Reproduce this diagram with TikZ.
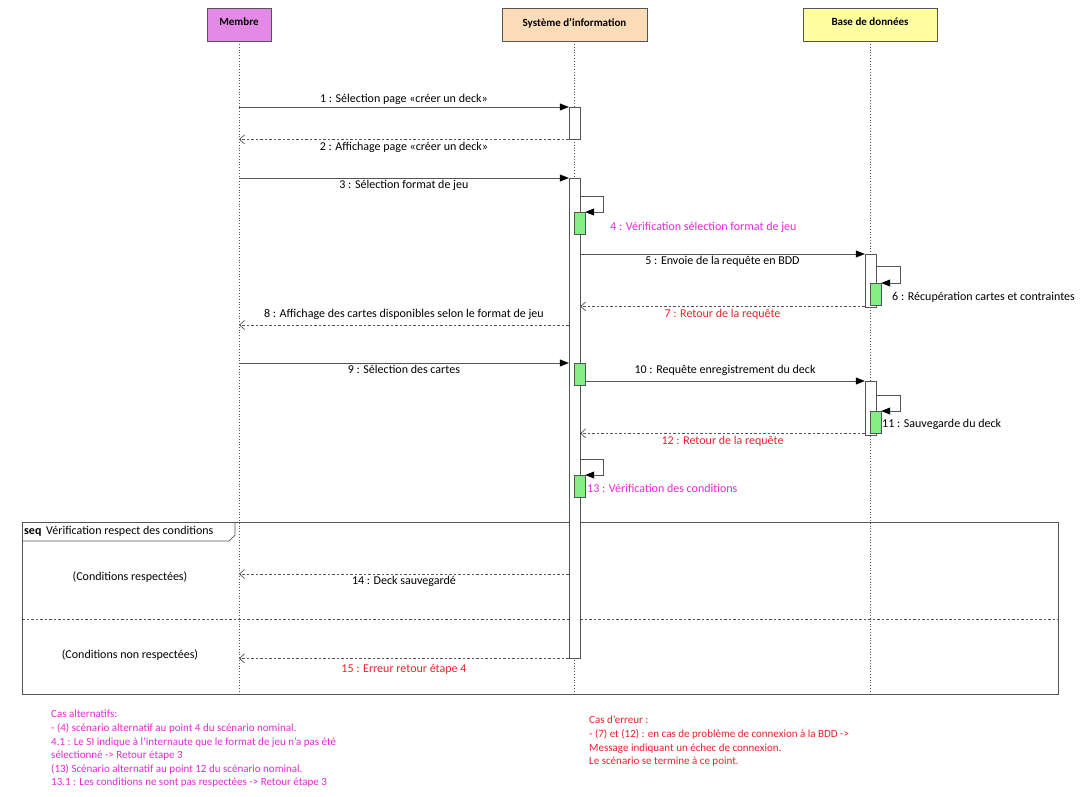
\documentclass[tikz,border=0pt]{standalone}
\usepackage{fontspec}
\setmainfont{Carlito}
\usetikzlibrary{arrows.meta}
\definecolor{membrefill}{HTML}{E38AE6}
\definecolor{sifill}{HTML}{FDDCBA}
\definecolor{bddfill}{HTML}{FFFFA2}
\definecolor{actfill}{HTML}{84EE84}
\definecolor{linegray}{HTML}{555555}
\definecolor{altcol}{HTML}{E628D4}
\definecolor{errcol}{HTML}{E8222C}
\tikzset{
    actor/.style = {draw=linegray, minimum height=33pt, inner sep=0pt, font=\bfseries\fontsize{11}{13}\selectfont, text depth=5pt},
    lifeline/.style = {draw=linegray, dotted, line width=0.8pt},
    bar/.style = {draw=linegray, fill=white, minimum width=11pt, inner sep=0pt, anchor=north},
    subbar/.style = {draw=linegray, fill=actfill, minimum width=11pt, minimum height=22pt, inner sep=0pt, anchor=north},
    msg/.style = {draw=linegray, line width=0.7pt, -{Triangle[length=9pt,width=7pt,color=black]}},
    ret/.style = {draw=linegray, line width=0.7pt, dash pattern=on 2.5pt off 2pt, -{Straight Barb[length=5pt,width=9pt]}},
    lbl/.style = {font=\fontsize{12}{14}\selectfont, inner sep=2pt},
    note/.style = {font=\fontsize{11}{13.6}\selectfont, align=left, anchor=north west, inner sep=0pt}
}
\begin{document}
\begin{tikzpicture}[x=1pt, y=-1pt]
    \useasboundingbox (0,0) rectangle (1091,796);
    \coordinate (bottom) at (0,693);
    \coordinate (y8) at (0,325);
    \coordinate (y14) at (0,574);

    \node[actor, fill=membrefill, minimum width=64pt] (mbr) at (239,24.5) {Membre};
    \node[actor, fill=sifill, minimum width=145pt] (si) at (574.5,24.5) {Système d'information};
    \node[actor, fill=bddfill, minimum width=134pt] (bdd) at (870,24.5) {Base de données};

    \draw[lifeline] (mbr.south) -- (mbr.south |- bottom);
    \draw[lifeline] (si.south) -- (si.south |- bottom);
    \draw[lifeline] (bdd.south) -- (bdd.south |- bottom);

    \node[draw=linegray, line width=0.7pt, minimum width=1036pt, minimum height=172pt, inner sep=0pt, anchor=north west] (seq) at (22,522) {};
    \draw[draw=linegray, line width=0.7pt] ([yshift=-19pt]seq.north west) -- ++(207,0) -- ++(6,-6) -- ++(0,-13);
    \node[lbl, anchor=west] (seqlbl) at (22,531.5) {\textbf{seq}\, Vérification respect des conditions};
    \draw[draw=linegray, line width=0.7pt, dash pattern=on 2.5pt off 2pt] (seq.west |- 0,619) -- (seq.east |- 0,619);
    \node[lbl] (cond1) at (130,577) {(Conditions respectées)};
    \node[lbl] (cond2) at (130,655) {(Conditions non respectées)};

    \node[bar, minimum height=32pt] (a1) at (574.5,107) {};
    \node[bar, minimum height=480pt] (a2) at (574.5,178) {};
    \node[subbar] (g4) at (579.5,212) {};
    \node[subbar] (g10) at (579.5,363) {};
    \node[subbar] (g13) at (579.5,475) {};
    \node[bar, minimum height=53pt] (b1) at (870.5,254) {};
    \node[subbar] (g6) at (875.5,283) {};
    \node[bar, minimum height=54pt] (b2) at (870.5,381) {};
    \node[subbar] (g11) at (875.5,411) {};

    \draw[msg] (mbr.south |- a1.north) -- (a1.north west)
        node[lbl, midway, above] {1 : Sélection page «créer un deck»};
    \draw[ret] (a1.south west) -- (mbr.south |- a1.south)
        node[lbl, midway, below] {2 : Affichage page «créer un deck»};
    \draw[msg] (mbr.south |- a2.north) -- (a2.north west)
        node[lbl, midway, below] {3 : Sélection format de jeu};
    \draw[msg] ([yshift=16pt]g4.north -| a2.east) -- ++(23,0) |- (g4.north east);
    \node[lbl, anchor=west, text=altcol] (l4) at (608,227) {4 : Vérification sélection format de jeu};
    \draw[msg] (a2.east |- b1.north) -- (b1.north west)
        node[lbl, midway, below] {5 : Envoie de la requête en BDD};
    \draw[msg] ([yshift=17pt]g6.north -| b1.east) -- ++(24,0) |- (g6.north east);
    \node[lbl, anchor=west] (l6) at (890,297) {6 : Récupération cartes et contraintes};
    \draw[ret] ([yshift=1pt]b1.south west) -- ([yshift=1pt]a2.east |- b1.south)
        node[lbl, midway, below, text=errcol] {7 : Retour de la requête};
    \draw[ret] (a2.west |- y8) -- (mbr.south |- y8)
        node[lbl, midway, above, yshift=3pt] {8 : Affichage des cartes disponibles selon le format de jeu};
    \draw[msg] (mbr.south |- g10.north) -- (a2.west |- g10.north)
        node[lbl, midway, below] {9 : Sélection des cartes};
    \draw[msg] (g10.east |- b2.north) -- (b2.north west)
        node[lbl, midway, above, yshift=3pt] {10 : Requête enregistrement du deck};
    \draw[msg] ([yshift=16pt]g11.north -| b2.east) -- ++(24,0) |- (g11.north east);
    \node[lbl, anchor=west] (l11) at (880,424) {11 : Sauvegarde du deck};
    \draw[ret] ([yshift=2pt]b2.south west) -- ([yshift=2pt]a2.east |- b2.south)
        node[lbl, midway, below, text=errcol] {12 : Retour de la requête};
    \draw[msg] ([yshift=16pt]g13.north -| a2.east) -- ++(23,0) |- (g13.north east);
    \node[lbl, anchor=west, text=altcol] (l13) at (585,488) {13 : Vérification des conditions};
    \draw[ret] (a2.west |- y14) -- (mbr.south |- y14)
        node[lbl, midway, below] {14 : Deck sauvegardé};
    \draw[ret] (a2.south west) -- (mbr.south |- a2.south)
        node[lbl, midway, below, yshift=-4pt, text=errcol] {15 : Erreur retour étape 4};

    \node[note, text=altcol] (alt) at (51,710) {Cas alternatifs:\\
        - (4) scénario alternatif au point 4 du scénario nominal.\\
        4.1 : Le SI indique à l'internaute que le format de jeu n'a pas été\\
        sélectionné -> Retour étape 3\\
        (13) Scénario alternatif au point 12 du scénario nominal.\\
        13.1 : Les conditions ne sont pas respectées -> Retour étape 3};
    \node[note, text=errcol] (err) at (589,716) {Cas d'erreur :\\
        - (7) et (12) : en cas de problème de connexion à la BDD ->\\
        Message indiquant un échec de connexion.\\
        Le scénario se termine à ce point.};
\end{tikzpicture}
\end{document}
